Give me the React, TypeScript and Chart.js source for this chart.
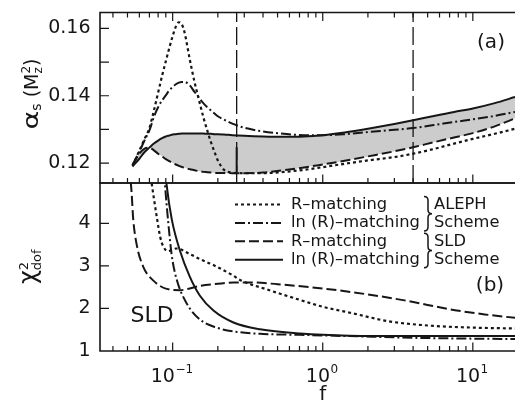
import React, { useEffect, useRef } from 'react';
import { Chart, registerables } from 'chart.js';
Chart.register(...registerables);

const FONT = "'DejaVu Sans', 'Noto Sans', sans-serif";
const INK = '#161616';

// ---- shared x axis (f, logarithmic) ----
const fMin = 0.0328;
const fMax = 19.1;
const xMinorTicks = [0.04, 0.05, 0.06, 0.07, 0.08, 0.09, 0.2, 0.3, 0.4, 0.5, 0.6, 0.7, 0.8, 0.9, 2, 3, 4, 5, 6, 7, 8, 9];
const xMajorTicks = [0.1, 1, 10];
const xTickExponents = ['\u22121', '0', '1'];

// ---- panel (a): alpha_s(Mz^2) ----
const alphaMin = 0.1141;
const alphaMax = 0.1647;
const alphaTicks = [0.12, 0.13, 0.14, 0.15, 0.16];
const fTop = [0.054, 0.06, 0.065, 0.07, 0.075, 0.08, 0.085, 0.09, 0.095, 0.1, 0.105, 0.11, 0.115, 0.12, 0.13, 0.14, 0.15, 0.16, 0.17, 0.18, 0.19, 0.2, 0.22, 0.25, 0.3, 0.4, 0.55, 0.75, 1, 1.4, 2, 3, 4, 5.5, 7.5, 10, 14, 19.1];
const alphaAlephR = [0.1192, 0.1237, 0.1272, 0.1304, 0.1356, 0.1409, 0.1459, 0.1502, 0.1542, 0.1577, 0.1605, 0.1618, 0.1612, 0.1588, 0.1508, 0.144, 0.1386, 0.1337, 0.1297, 0.1262, 0.1233, 0.1208, 0.118, 0.1172, 0.117, 0.117, 0.1174, 0.118, 0.1188, 0.1198, 0.1208, 0.1218, 0.1228, 0.1242, 0.1258, 0.1272, 0.1287, 0.1302];
const alphaAlephLn = [0.1195, 0.1234, 0.1268, 0.1297, 0.1337, 0.1366, 0.1386, 0.1401, 0.1416, 0.1426, 0.1434, 0.1439, 0.1441, 0.1441, 0.1431, 0.1411, 0.1394, 0.1378, 0.1366, 0.1356, 0.1347, 0.1339, 0.1329, 0.1317, 0.1305, 0.1294, 0.1287, 0.1283, 0.1283, 0.1286, 0.1292, 0.1299, 0.1304, 0.1313, 0.1322, 0.133, 0.134, 0.1352];
const alphaSldLn = [0.119, 0.1213, 0.1233, 0.1246, 0.1258, 0.1267, 0.1274, 0.1279, 0.1282, 0.1285, 0.1286, 0.1287, 0.1288, 0.1288, 0.1288, 0.1288, 0.1288, 0.1288, 0.1287, 0.1287, 0.1286, 0.1286, 0.1285, 0.1283, 0.1281, 0.1279, 0.1278, 0.1279, 0.1283, 0.1291, 0.1302, 0.1316, 0.1327, 0.134, 0.1352, 0.1362, 0.1378, 0.1396];
const alphaSldR = [0.1193, 0.1228, 0.1243, 0.1246, 0.1238, 0.1228, 0.122, 0.1212, 0.1206, 0.12, 0.1196, 0.1192, 0.1189, 0.1186, 0.1182, 0.1179, 0.1176, 0.1174, 0.1173, 0.1172, 0.1171, 0.1171, 0.1171, 0.117, 0.117, 0.1172, 0.1179, 0.1187, 0.1196, 0.1207, 0.122, 0.1235, 0.1247, 0.1262, 0.1276, 0.1289, 0.1309, 0.1333];
const scaleMarks = [0.267, 4.0];
const sldRangeF = 0.267;
const sldRange = [0.1173, 0.1247];

// ---- panel (b): chi^2 / dof ----
const chiMin = 1;
const chiMax = 4.95;
const chiTicks = [1, 2, 3, 4];
const fChiAlephR = [0.0715, 0.0724, 0.0783, 0.0825, 0.0865, 0.0933, 0.106, 0.13, 0.152, 0.187, 0.254, 0.281, 0.423, 0.706, 1, 1.52, 2.74, 5, 10, 19.1];
const chiAlephR = [5.08, 4.95, 4.16, 3.69, 3.46, 3.35, 3.41, 3.28, 3.16, 3.02, 2.77, 2.67, 2.45, 2.2, 2.04, 1.9, 1.7, 1.6, 1.55, 1.53];
const fChiAlephLn = [0.0875, 0.0889, 0.0933, 0.0986, 0.106, 0.124, 0.152, 0.196, 0.281, 0.4, 0.7, 1.5, 4, 10, 19.1];
const chiAlephLn = [5.2, 4.9, 4.05, 3.25, 2.7, 2.12, 1.74, 1.55, 1.44, 1.4, 1.38, 1.35, 1.31, 1.29, 1.28];
const fChiSldR = [0.0515, 0.0532, 0.0546, 0.0576, 0.0637, 0.0741, 0.0912, 0.112, 0.13, 0.152, 0.2, 0.254, 0.35, 0.5, 1, 2, 3.5, 7.6, 12, 19.1];
const chiSldR = [5.3, 4.75, 4.1, 3.5, 2.98, 2.66, 2.46, 2.43, 2.47, 2.53, 2.58, 2.61, 2.61, 2.57, 2.47, 2.33, 2.19, 1.96, 1.86, 1.78];
const fChiSldLn = [0.089, 0.0912, 0.0986, 0.112, 0.13, 0.152, 0.187, 0.254, 0.382, 0.706, 1.5, 4, 10, 19.1];
const chiSldLn = [5.3, 4.9, 4.1, 3.35, 2.75, 2.3, 1.95, 1.67, 1.51, 1.41, 1.36, 1.35, 1.35, 1.35];

// ---- legend ----
const legendLabels = ['R\u2013matching', 'ln (R)\u2013matching', 'R\u2013matching', 'ln (R)\u2013matching'];
const groupLabels = [['ALEPH', 'Scheme'], ['SLD', 'Scheme']];

const DASH_DOT = [3, 3];
const DASH_DASHDOT = [10, 3, 2, 3];
const DASH_LONG = [10, 4];
const DASH_SOLID: number[] = [];
const legendDashes = [DASH_DOT, DASH_DASHDOT, DASH_LONG, DASH_SOLID];

const line = (label: string, xs: number[], ys: number[], dash: number[], extra: any = {}) => ({
  label,
  data: xs.map((x, i) => ({ x, y: ys[i] })),
  borderColor: INK,
  borderWidth: 2,
  borderDash: dash,
  pointRadius: 0,
  fill: false,
  cubicInterpolationMode: 'monotone',
  ...extra,
});

type Piece = { t?: string; size: number; dy?: number; sx?: number; sup?: string; sub?: string; supDy?: number; subDy?: number };

function pieceWidth(ctx: CanvasRenderingContext2D, p: Piece) {
  ctx.font = `${p.size}px ${FONT}`;
  if (p.t !== undefined) return ctx.measureText(p.t).width * (p.sx || 1);
  return Math.max(ctx.measureText(p.sup || '').width, ctx.measureText(p.sub || '').width);
}

function drawPieces(ctx: CanvasRenderingContext2D, pieces: Piece[], x0: number) {
  let x = x0;
  for (const p of pieces) {
    const w = pieceWidth(ctx, p);
    ctx.font = `${p.size}px ${FONT}`;
    if (p.t !== undefined) {
      ctx.save();
      ctx.translate(x, p.dy || 0);
      ctx.scale(p.sx || 1, 1);
      ctx.fillText(p.t, 0, 0);
      ctx.restore();
    } else {
      if (p.sup) ctx.fillText(p.sup, x, p.supDy || 0);
      if (p.sub) ctx.fillText(p.sub, x, p.subDy || 0);
    }
    x += w;
  }
}

function drawVerticalTitle(ctx: CanvasRenderingContext2D, pieces: Piece[], baseX: number, cy: number) {
  ctx.save();
  ctx.translate(baseX, cy);
  ctx.rotate(-Math.PI / 2);
  ctx.fillStyle = INK;
  ctx.textAlign = 'left';
  ctx.textBaseline = 'alphabetic';
  const total = pieces.reduce((s, p) => s + pieceWidth(ctx, p), 0);
  drawPieces(ctx, pieces, -total / 2);
  ctx.restore();
}

function drawXTicks(ctx: CanvasRenderingContext2D, xs: any, y: number, dir: number) {
  ctx.beginPath();
  for (const v of xMinorTicks) {
    const px = xs.getPixelForValue(v);
    ctx.moveTo(px, y);
    ctx.lineTo(px, y + dir * 5);
  }
  for (const v of xMajorTicks) {
    const px = xs.getPixelForValue(v);
    ctx.moveTo(px, y);
    ctx.lineTo(px, y + dir * 8.5);
  }
  ctx.stroke();
}

function drawBrace(ctx: CanvasRenderingContext2D, x: number, y0: number, y1: number, w: number) {
  const ym = (y0 + y1) / 2;
  const h = w / 2;
  ctx.beginPath();
  ctx.moveTo(x, y0);
  ctx.quadraticCurveTo(x + h, y0, x + h, y0 + h);
  ctx.lineTo(x + h, ym - h);
  ctx.quadraticCurveTo(x + h, ym, x + w, ym);
  ctx.quadraticCurveTo(x + h, ym, x + h, ym + h);
  ctx.lineTo(x + h, y1 - h);
  ctx.quadraticCurveTo(x + h, y1, x, y1);
  ctx.stroke();
}

const topDeco = {
  id: 'topDeco',
  afterDraw(chart: any) {
    const { ctx, chartArea: a, scales } = chart;
    const xs = scales.x;
    const ys = scales.y;
    ctx.save();
    ctx.strokeStyle = INK;
    ctx.lineWidth = 1.6;
    ctx.setLineDash([]);
    ctx.beginPath();
    ctx.moveTo(a.right, a.top);
    ctx.lineTo(a.left, a.top);
    ctx.lineTo(a.left, a.bottom);
    ctx.lineTo(a.right, a.bottom);
    ctx.stroke();
    ctx.lineWidth = 1.2;
    drawXTicks(ctx, xs, a.top, 1);
    drawXTicks(ctx, xs, a.bottom, -1);
    ctx.beginPath();
    for (const v of alphaTicks) {
      const py = ys.getPixelForValue(v);
      ctx.moveTo(a.left, py);
      ctx.lineTo(a.left + 9, py);
    }
    ctx.stroke();
    ctx.fillStyle = INK;
    ctx.font = `20px ${FONT}`;
    ctx.textAlign = 'center';
    ctx.textBaseline = 'middle';
    ctx.fillText('(a)', a.right - 24, a.top + 30.5);
    drawVerticalTitle(ctx, [
      { t: '\u03b1', size: 22, sx: 1.3 },
      { t: 's', size: 14, dy: 3 },
      { t: ' (M', size: 19 },
      { sup: '2', sub: 'z', size: 12, supDy: -8, subDy: 4 },
      { t: ')', size: 19 },
    ], 38, 94);
    ctx.restore();
  },
};

const bottomDeco = {
  id: 'bottomDeco',
  afterDraw(chart: any) {
    const { ctx, chartArea: a, scales } = chart;
    const xs = scales.x;
    const ys = scales.y;
    ctx.save();
    ctx.strokeStyle = INK;
    ctx.lineWidth = 1.6;
    ctx.setLineDash([]);
    ctx.beginPath();
    ctx.moveTo(a.right, a.top);
    ctx.lineTo(a.left, a.top);
    ctx.lineTo(a.left, a.bottom);
    ctx.lineTo(a.right, a.bottom);
    ctx.stroke();
    ctx.lineWidth = 1.2;
    drawXTicks(ctx, xs, a.bottom, -1);
    ctx.beginPath();
    for (const v of chiTicks) {
      if (v <= chiMin) continue;
      const py = ys.getPixelForValue(v);
      ctx.moveTo(a.left, py);
      ctx.lineTo(a.left + 9, py);
    }
    ctx.stroke();

    // x tick labels 10^n
    ctx.fillStyle = INK;
    ctx.textAlign = 'left';
    ctx.textBaseline = 'alphabetic';
    xMajorTicks.forEach((v, i) => {
      const px = xs.getPixelForValue(v);
      ctx.font = `19px ${FONT}`;
      const w1 = ctx.measureText('10').width;
      ctx.font = `12px ${FONT}`;
      const w2 = ctx.measureText(xTickExponents[i]).width;
      const x0 = px - (w1 + w2) / 2 - 1;
      ctx.font = `19px ${FONT}`;
      ctx.fillText('10', x0, a.bottom + 30.7);
      ctx.font = `12px ${FONT}`;
      ctx.fillText(xTickExponents[i], x0 + w1 + 0.5, a.bottom + 22.3);
    });
    ctx.font = `20px ${FONT}`;
    ctx.textAlign = 'center';
    ctx.textBaseline = 'middle';
    ctx.fillText('f', xs.getPixelForValue(1), a.bottom + 44);

    // legend
    ctx.lineWidth = 2;
    legendLabels.forEach((lab, i) => {
      const y = a.top + 21.5 + i * 18.4;
      ctx.setLineDash(legendDashes[i]);
      ctx.beginPath();
      ctx.moveTo(a.left + 135, y);
      ctx.lineTo(a.left + 183, y);
      ctx.stroke();
      ctx.setLineDash([]);
      ctx.font = `16.3px ${FONT}`;
      ctx.textAlign = 'left';
      ctx.fillText(lab, a.left + 191, y);
    });
    ctx.lineWidth = 1.5;
    groupLabels.forEach((g, k) => {
      const y1 = a.top + 21.5 + 2 * k * 18.4;
      const y2 = y1 + 18.4;
      drawBrace(ctx, a.left + 324, y1 - 8, y2 + 8, 8);
      ctx.fillText(g[0], a.left + 334, y1);
      ctx.fillText(g[1], a.left + 334, y2);
    });

    ctx.font = `20px ${FONT}`;
    ctx.textAlign = 'center';
    ctx.fillText('(b)', a.right - 25, a.top + 103);
    ctx.font = `22px ${FONT}`;
    ctx.fillText('SLD', a.left + 52, a.top + 133.5);

    drawVerticalTitle(ctx, [
      { t: '\u03c7', size: 24 },
      { sup: '2', sub: 'dof', size: 13, supDy: -8.5, subDy: 5 },
    ], 36, a.top + 83.7);
    ctx.restore();
  },
};

const yScale = (min: number, max: number, ticks: number[], label: (v: number) => string) => ({
  type: 'linear',
  min,
  max,
  grid: { display: false, drawTicks: false },
  border: { display: false },
  afterBuildTicks: (s: any) => {
    s.ticks = ticks.map((value) => ({ value }));
  },
  afterFit: (s: any) => {
    s.width = 100;
    s.paddingTop = 0;
    s.paddingBottom = 0;
  },
  ticks: { padding: 9.5, color: INK, font: { family: FONT, size: 19 }, callback: (v: any) => label(Number(v)) },
});

const baseOptions = (padTop: number, padBottom: number) => ({
  responsive: false,
  maintainAspectRatio: false,
  animation: false,
  devicePixelRatio: 1,
  events: [],
  layout: { padding: { top: padTop, bottom: padBottom, left: 0, right: 0 } },
  plugins: {
    legend: { display: false },
    tooltip: { enabled: false },
    filler: { drawTime: 'beforeDatasetsDraw' },
  },
});

export default function App() {
  const topRef = useRef<HTMLCanvasElement>(null);
  const botRef = useRef<HTMLCanvasElement>(null);

  useEffect(() => {
    const topChart = new Chart(topRef.current as HTMLCanvasElement, {
      type: 'line',
      data: {
        datasets: [
          line('R-matching (ALEPH)', fTop, alphaAlephR, DASH_DOT, { borderWidth: 2.2 }),
          line('ln(R)-matching (ALEPH)', fTop, alphaAlephLn, DASH_DASHDOT),
          line('ln(R)-matching (SLD)', fTop, alphaSldLn, DASH_SOLID, { fill: '+1', backgroundColor: 'rgba(0,0,0,0.2)' }),
          line('R-matching (SLD)', fTop, alphaSldR, DASH_LONG),
          ...scaleMarks.map((f) =>
            line('scale ' + f, [f, f], [alphaMin, alphaMax], [18, 5], { borderWidth: 1.3, cubicInterpolationMode: 'default', tension: 0 })
          ),
          line('SLD range', [sldRangeF, sldRangeF], sldRange, DASH_SOLID, { borderWidth: 2, cubicInterpolationMode: 'default', tension: 0 }),
        ] as any,
      },
      options: {
        ...baseOptions(12.5, 7),
        scales: {
          x: { type: 'logarithmic', min: fMin, max: fMax, display: false },
          y: yScale(alphaMin, alphaMax, alphaTicks, (v) => (Math.round(v * 100) % 2 === 0 ? v.toFixed(2) : '')),
        },
      } as any,
      plugins: [topDeco],
    });

    const botChart = new Chart(botRef.current as HTMLCanvasElement, {
      type: 'line',
      data: {
        datasets: [
          line('R-matching (ALEPH)', fChiAlephR, chiAlephR, DASH_DOT, { borderWidth: 2.2 }),
          line('ln(R)-matching (ALEPH)', fChiAlephLn, chiAlephLn, DASH_DASHDOT),
          line('R-matching (SLD)', fChiSldR, chiSldR, DASH_LONG),
          line('ln(R)-matching (SLD)', fChiSldLn, chiSldLn, DASH_SOLID),
        ] as any,
      },
      options: {
        ...baseOptions(7, 56),
        scales: {
          x: { type: 'logarithmic', min: fMin, max: fMax, display: false },
          y: yScale(chiMin, chiMax, chiTicks, (v) => String(v)),
        },
      } as any,
      plugins: [bottomDeco],
    });

    return () => {
      topChart.destroy();
      botChart.destroy();
    };
  }, []);

  return (
    <div style={{ position: 'absolute', left: 0, top: 0, width: 515, height: 407, background: '#fff', overflow: 'hidden' }}>
      <canvas ref={topRef} width={515} height={190} style={{ position: 'absolute', left: 0, top: 0 }} />
      <canvas ref={botRef} width={515} height={231} style={{ position: 'absolute', left: 0, top: 176 }} />
    </div>
  );
}
